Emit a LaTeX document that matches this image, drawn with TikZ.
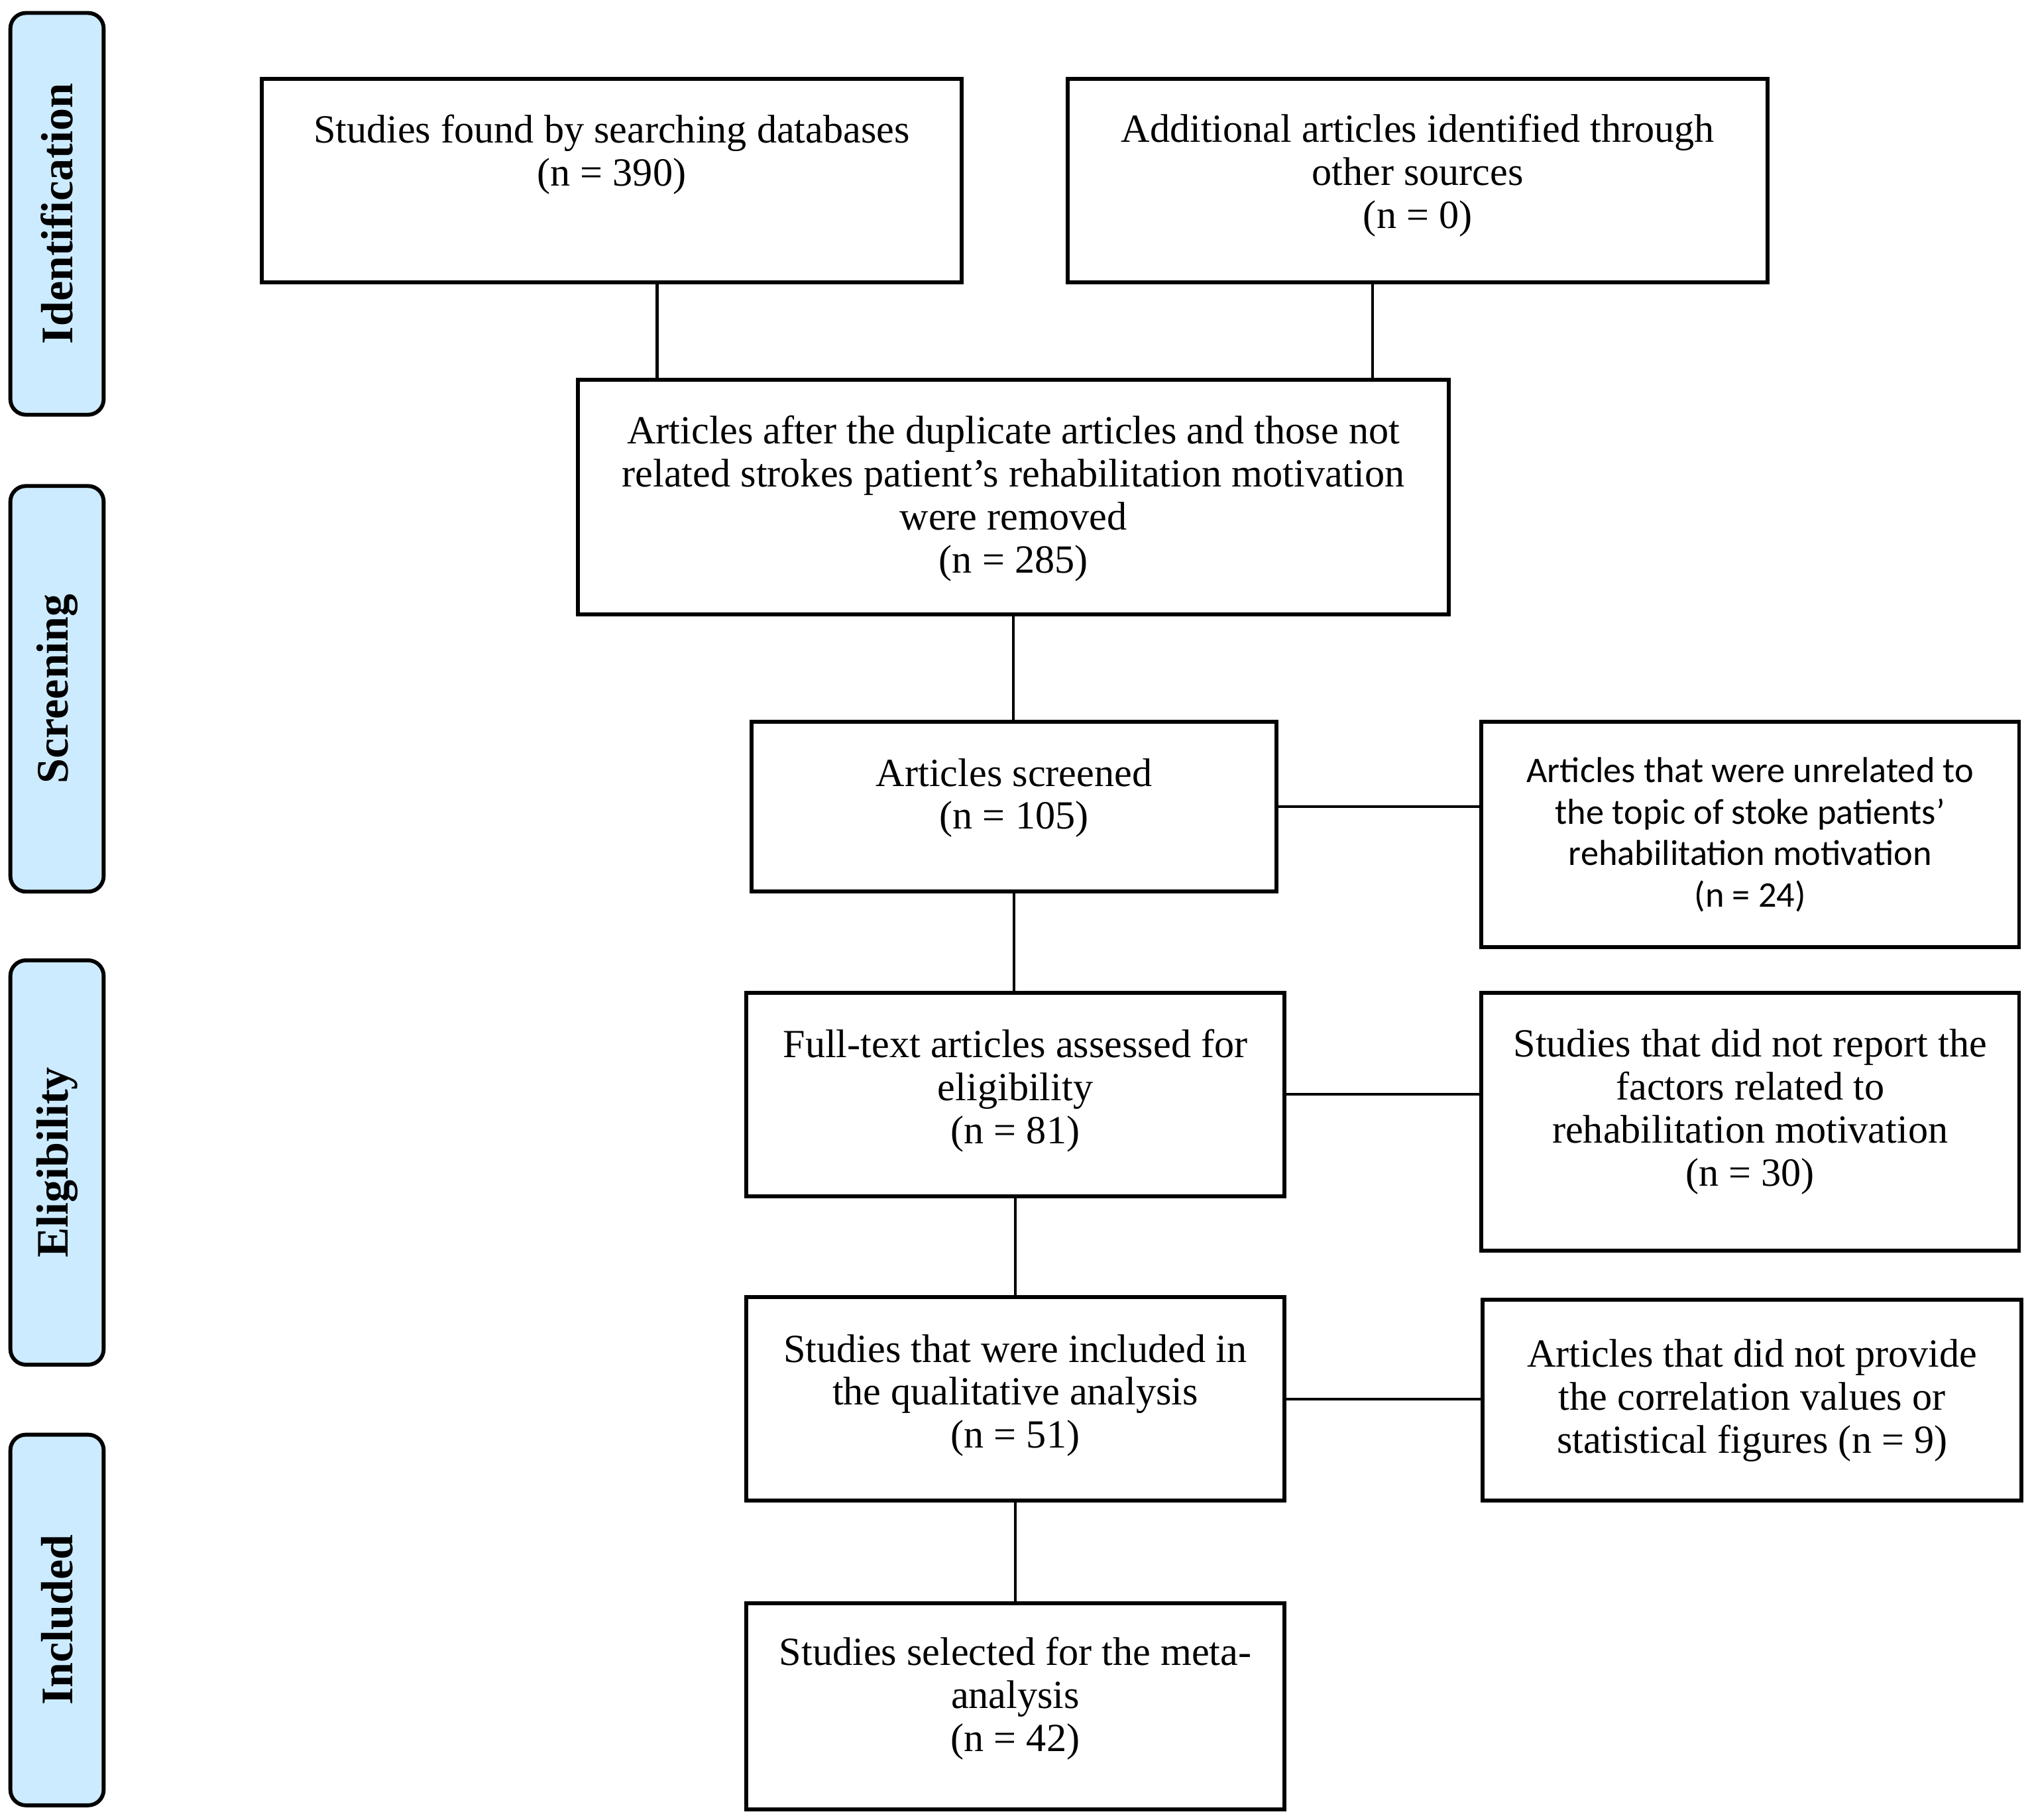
\documentclass[tikz,border=0pt]{standalone}
\usepackage{fontspec}
\setmainfont{Liberation Serif}
\newfontfamily\sansf{Carlito}
\definecolor{phaseblue}{RGB}{204,235,255}
\newcommand{\liftup}[2]{\raisebox{#1}[\height][\depth]{\begin{tabular}{@{}c@{}}#2\end{tabular}}}
\begin{document}
\begin{tikzpicture}[x=0.5pt,y=-0.5pt,
  box/.style={draw=black, line width=1.5pt, fill=white, align=center, inner sep=0pt,
              font=\fontsize{15.4}{16.6}\selectfont},
  sbox/.style={box, font=\sansf\fontsize{13.9}{16}\selectfont},
  phase/.style={draw=black, line width=1.5pt, fill=phaseblue, rounded corners=6pt,
                minimum width=36pt, inner sep=0pt, font=\fontsize{17.4}{20}\selectfont\bfseries},
  link/.style={draw=black, line width=1.1pt}]
\useasboundingbox (0,0) rectangle (1568,1404);

% phase boxes
\node[phase, minimum height=155pt]   (ident)  at (44,165)    {\rotatebox{90}{Identification}};
\node[phase, minimum height=156.5pt] (screen) at (44,531.5)  {\rotatebox{90}{Screening}};
\node[phase, minimum height=156pt]   (elig)   at (44,897)    {\rotatebox{90}{Eligibility}};
\node[phase, minimum height=143pt]   (incl)   at (44,1250)   {\rotatebox{90}{Included}};

% flow boxes
\node[box, minimum width=270pt, minimum height=78.5pt] (db) at (472,139.5)
  {\parbox[c][78.5pt][t]{262pt}{\centering\rule{0pt}{24.5pt}Studies found by searching databases\\(n = 390)}};
\node[box, minimum width=270pt, minimum height=78.5pt] (other) at (1094,139.5)
  {\liftup{1.5pt}{Additional articles identified through\\other sources\\(n = 0)}};
\node[box, minimum width=336pt, minimum height=90.5pt] (dup) at (782,383.5)
  {\liftup{-1pt}{Articles after the duplicate articles and those not\\related strokes patient’s rehabilitation motivation\\were removed\\(n = 285)}};
\node[box, minimum width=202.5pt, minimum height=65.5pt] (screened) at (782.5,622.5)
  {\liftup{3pt}{Articles screened\\(n = 105)}};
\node[sbox, minimum width=207.5pt, minimum height=87pt] (unrel) at (1350.5,644)
  {Articles that were unrelated to\\the topic of stoke patients’\\rehabilitation motivation\\(n = 24)};
\node[box, minimum width=207.5pt, minimum height=78.5pt] (full) at (783.5,844.5)
  {\liftup{1pt}{Full-text articles assessed for\\eligibility\\(n = 81)}};
\node[box, minimum width=207.5pt, minimum height=99.5pt] (notrep) at (1350.5,865.5)
  {\liftup{3.5pt}{Studies that did not report the\\factors related to\\rehabilitation motivation\\(n = 30)}};
\node[box, minimum width=207.5pt, minimum height=78.5pt] (qual) at (783.5,1079.5)
  {\liftup{1pt}{Studies that were included in\\the qualitative analysis\\(n = 51)}};
\node[box, minimum width=208pt, minimum height=77.5pt] (notprov) at (1352,1080.5)
  {Articles that did not provide\\the correlation values or\\statistical figures (n = 9)};
\node[box, minimum width=207.5pt, minimum height=79.5pt] (meta) at (783.5,1316.5)
  {\liftup{2.5pt}{Studies selected for the meta-\\analysis\\(n = 42)}};

% connectors
\draw[link] ([xshift=17.5pt]db.south) -- ([xshift=17.5pt]db.south |- dup.north);
\draw[link] ([xshift=-17.5pt]other.south) -- ([xshift=-17.5pt]other.south |- dup.north);
\draw[link] (dup.south) -- (dup.south |- screened.north);
\draw[link] (screened.south) -- (screened.south |- full.north);
\draw[link] (screened.east) -- (screened.east -| unrel.west);
\draw[link] (full.east) -- (full.east -| notrep.west);
\draw[link] (full.south) -- (full.south |- qual.north);
\draw[link] (qual.east) -- (qual.east -| notprov.west);
\draw[link] (qual.south) -- (qual.south |- meta.north);
\end{tikzpicture}
\end{document}
